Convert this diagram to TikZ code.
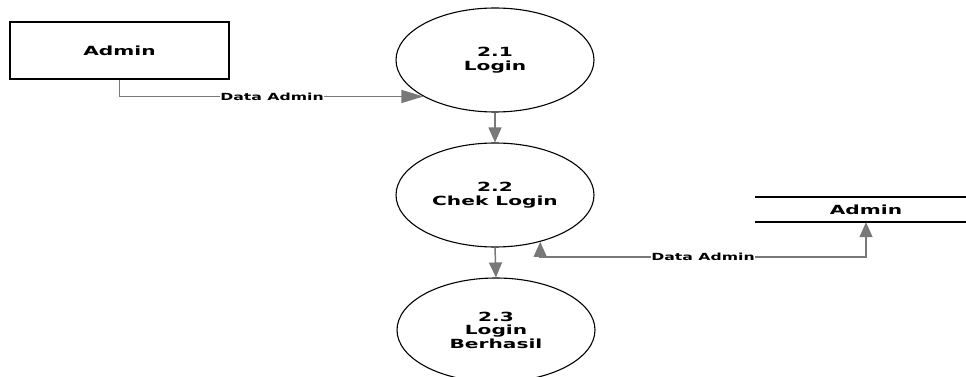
\documentclass[tikz,border=0pt]{standalone}
\usepackage{fontspec}
\usetikzlibrary{shapes.geometric,arrows.meta}
\newfontfamily\dfdfont{DejaVu Sans}[FakeStretch=1.6]
\begin{document}
\begin{tikzpicture}[x=1pt,y=-1pt,
  every node/.style={font=\dfdfont\bfseries\fontsize{12.6}{13.5}\selectfont, align=center, inner sep=0pt},
  process/.style={ellipse, draw=black, line width=1.1pt, minimum width=198pt, minimum height=104pt},
  entity/.style={rectangle, draw=black, line width=1.2pt, minimum width=219pt, minimum height=57pt},
  store/.style={rectangle, minimum width=222pt, minimum height=25pt},
  flow/.style={draw=black!53, line width=1.5pt, -{Triangle[length=15pt,width=13pt]}},
  flowlabel/.style={fill=white, font=\dfdfont\bfseries\fontsize{9.8}{10}\selectfont, inner sep=0.5pt}
]
\useasboundingbox (0,0) rectangle (966,377);

% external entity and data store
\node[entity] (adm) at (119.5,50.5) {Admin};
\node[store] (dstore) at (866,209.5) {Admin};
\draw[line width=1.5pt] (dstore.north west) -- (dstore.north east);
\draw[line width=1.5pt] (dstore.south west) -- (dstore.south east);

% processes
\node[process] (p21) at (495,60) {2.1\\Login};
\node[process] (p22) at (495,195) {2.2\\Chek Login};
\node[process] (p23) at (496,330) {2.3\\Login\\Berhasil};

% data flows
\coordinate (b1) at (272,97);
\draw[flow, -{Triangle[length=22pt,width=13pt]}] (adm.south) |- (p21.207.9);
\node[flowlabel] at (b1) {Data Admin};
\draw[flow] (p21.south) -- (p22.north);
\draw[flow] (p22.south) -- (p23.north);
\coordinate (b2) at (703,257);
\draw[flow, {Triangle[length=15pt,width=13pt]}-{Triangle[length=15pt,width=13pt]}]
  (p22.-46.6) |- (b2) -| (dstore.south);
\node[flowlabel] at (b2) {Data Admin};
\end{tikzpicture}
\end{document}
